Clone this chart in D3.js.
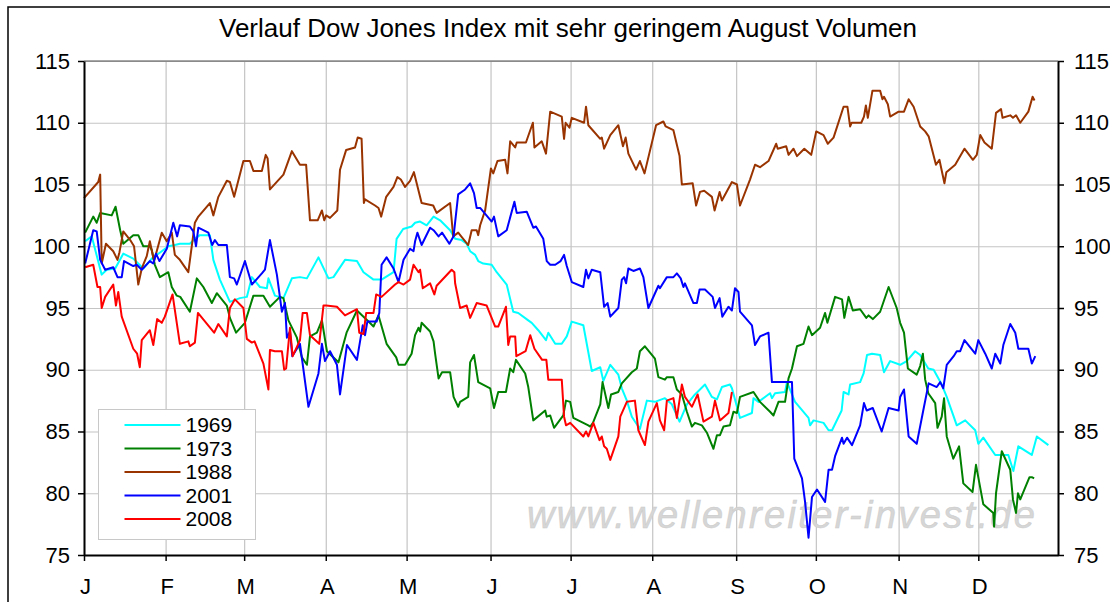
<!DOCTYPE html>
<html>
<head>
<meta charset="utf-8">
<script src="https://cdn.jsdelivr.net/npm/d3@7"></script>
<style>
  body{margin:0;background:#fff;}
  svg{display:block;font-family:"Liberation Sans",Arial,sans-serif;}
</style>
</head>
<body>
<svg id="chart" width="1110" height="602"></svg>
<script>
// chart values (x = trading day of the year, y = index level)
var title="Verlauf Dow Jones Index mit sehr geringem August Volumen";
var monthLabels=["J","F","M","A","M","J","J","A","S","O","N","D"];
var monthStarts=[0,21.2,41.6,62.8,83.8,105.6,126.4,147.6,169.4,190.1,211.6,232.3];
var daysInYear=253;
var yTicks=[75,80,85,90,95,100,105,110,115];
var years=["1969","1973","1988","2001","2008"];
var watermark="www.wellenreiter-invest.de";

var s1969=[[0.3,100.4],[2.0,100.8],[4.6,97.7],[5.9,98.1],[8.1,98.2],[10.2,99.4],[12.8,99.0],[15.4,98.2],[17.6,99.0],[20.2,99.6],[21.9,100.0],[23.6,100.1],[24.9,100.2],[27.5,100.2],[28.8,100.6],[30.1,100.9],[32.7,100.9],[33.6,98.9],[35.3,97.3],[37.9,95.5],[40.5,95.8],[42.3,95.9],[43.6,97.5],[45.7,96.7],[47.5,96.6],[47.9,97.4],[49.6,96.0],[51.8,95.8],[54.0,97.4],[56.1,97.5],[57.9,97.4],[60.9,99.1],[63.5,97.4],[64.8,97.5],[67.8,98.9],[70.9,98.8],[72.6,97.9],[75.2,97.3],[77.3,97.3],[80.4,97.9],[81.2,100.6],[82.9,101.4],[85.1,101.6],[86.0,101.9],[87.3,102.0],[89.0,101.7],[90.8,102.4],[92.5,102.1],[95.1,101.3],[96.4,100.6],[98.1,100.5],[99.4,100.2],[100.3,99.6],[101.6,99.3],[102.4,98.8],[103.7,98.6],[105.9,98.5],[107.2,97.9],[109.8,96.9],[111.5,94.7],[112.8,94.6],[115.4,94.0],[116.3,93.8],[118.0,93.2],[120.0,92.4],[120.6,93.0],[122.4,92.1],[124.1,92.1],[125.4,92.7],[126.7,93.9],[129.7,93.6],[131.9,89.9],[134.1,90.2],[134.9,89.1],[136.7,90.4],[138.8,89.6],[139.7,88.5],[141.0,87.5],[142.3,86.2],[144.4,85.2],[146.2,87.5],[148.3,87.4],[150.9,87.7],[152.7,87.2],[154.7,85.8],[156.6,87.2],[158.7,88.0],[161.3,88.8],[163.1,87.8],[164.4,87.6],[165.7,88.6],[167.8,88.8],[168.3,88.5],[170.4,86.1],[173.5,86.5],[173.9,87.7],[175.2,87.4],[178.2,88.1],[178.7,87.7],[179.5,88.1],[182.1,88.2],[182.6,89.0],[184.7,87.4],[188.2,86.1],[188.6,85.5],[189.5,85.9],[192.1,85.7],[193.4,85.1],[194.3,85.1],[196.8,86.7],[197.3,88.2],[198.6,88.0],[199.0,88.8],[201.6,89.0],[202.5,89.7],[203.4,91.2],[204.7,91.3],[206.8,91.2],[207.8,89.8],[209.4,90.7],[212.0,90.4],[213.7,90.7],[215.9,91.5],[217.2,91.2],[219.3,90.1],[220.7,90.0],[222.8,88.8],[224.1,87.8],[225.8,86.3],[226.7,85.5],[228.9,85.9],[231.5,85.1],[232.3,84.0],[233.6,84.5],[236.7,83.1],[240.1,83.1],[241.4,81.8],[242.7,83.8],[246.2,83.1],[247.5,84.6],[250.5,83.9]];

var s1973=[[0.3,101.1],[2.4,102.4],[3.3,101.9],[4.2,102.7],[7.2,102.5],[8.2,103.2],[9.4,101.3],[10.2,100.2],[12.8,100.9],[14.1,100.9],[15.4,100.0],[17.1,100.0],[17.6,99.7],[18.4,98.5],[19.7,97.5],[21.9,97.9],[22.8,96.7],[24.1,96.0],[25.0,95.9],[27.5,94.7],[29.3,97.4],[31.0,96.7],[33.2,95.4],[34.5,96.2],[37.1,95.2],[37.9,94.2],[39.5,93.0],[41.8,93.8],[44.0,96.0],[46.6,96.0],[48.3,95.1],[50.9,95.9],[51.8,95.8],[53.1,94.0],[55.3,92.6],[56.6,91.0],[57.9,90.4],[58.7,92.7],[60.5,93.0],[61.8,94.0],[63.1,91.5],[66.1,90.6],[68.2,93.0],[70.9,94.8],[73.9,93.9],[75.2,93.5],[76.5,94.4],[78.6,92.1],[80.4,91.3],[81.1,91.0],[81.7,90.4],[83.4,90.4],[85.1,91.3],[86.0,92.8],[86.9,93.4],[87.3,93.1],[87.7,93.8],[89.9,93.1],[90.8,92.3],[91.2,91.3],[92.1,89.3],[93.0,89.8],[95.1,89.8],[96.0,87.8],[97.2,87.0],[97.7,87.4],[99.8,87.8],[100.3,90.6],[101.3,91.2],[102.4,89.0],[105.5,88.5],[106.5,86.9],[107.6,88.2],[109.6,88.2],[110.7,90.1],[111.5,89.8],[112.2,90.8],[114.6,89.7],[115.4,88.6],[116.7,85.9],[119.8,86.7],[120.2,86.2],[121.1,86.3],[122.1,85.3],[124.5,86.3],[125.2,87.5],[126.3,87.4],[127.1,86.1],[131.0,85.5],[131.5,85.4],[132.2,85.7],[134.1,87.2],[134.7,89.0],[136.2,86.9],[136.9,88.0],[138.8,88.2],[139.7,88.9],[142.3,89.8],[143.6,90.1],[144.4,91.5],[145.7,91.9],[148.3,90.9],[149.2,89.4],[150.9,89.2],[151.4,89.4],[153.1,89.4],[154.0,88.4],[155.3,88.0],[156.6,86.6],[157.9,85.4],[158.7,85.7],[160.5,85.5],[161.8,84.9],[163.5,83.6],[164.4,84.7],[165.2,84.7],[166.1,85.4],[167.8,85.5],[168.7,86.6],[169.6,86.5],[170.4,87.8],[173.9,88.2],[175.6,87.4],[178.2,86.6],[179.1,86.3],[180.4,87.4],[182.1,87.4],[183.0,89.3],[183.9,90.1],[185.2,91.9],[186.9,92.1],[188.2,93.5],[189.1,92.8],[191.2,93.4],[192.5,94.6],[193.1,93.8],[195.1,95.9],[196.9,95.7],[197.5,94.2],[198.6,95.9],[199.7,94.8],[201.6,94.9],[203.2,94.2],[203.8,94.4],[204.9,94.1],[206.8,94.7],[209.0,96.7],[211.1,95.0],[212.0,93.8],[213.0,93.0],[214.0,90.1],[216.3,89.6],[217.2,90.3],[217.9,91.3],[218.5,89.2],[219.3,88.1],[221.1,87.3],[221.7,85.3],[222.8,86.2],[223.4,87.7],[224.1,84.6],[225.8,82.8],[227.3,83.8],[228.4,80.8],[230.8,80.1],[231.7,82.3],[233.6,79.1],[236.2,78.4],[236.4,77.3],[236.9,80.0],[238.4,83.4],[240.6,81.9],[241.3,79.5],[242.1,78.4],[242.6,80.0],[243.2,79.5],[245.6,81.3],[246.2,81.3],[246.8,81.2]];

var s1988=[[0,103.9],[3.7,105.2],[4.2,105.8],[4.6,98.6],[5.7,100.2],[7.6,99.6],[8.7,98.9],[9.2,99.5],[10.2,101.2],[12.0,100.5],[13.0,100.0],[14.1,96.9],[15.0,98.2],[16.3,99.2],[17.1,100.4],[18.2,98.8],[20.2,101.1],[21.5,100.4],[22.8,101.1],[23.6,99.3],[24.9,98.9],[27.1,97.9],[28.8,101.9],[29.7,102.4],[32.7,103.5],[33.6,102.5],[34.9,104.0],[37.1,105.3],[37.9,105.2],[39.0,104.0],[41.4,106.9],[43.1,106.9],[44.0,106.1],[46.2,106.1],[47.2,107.4],[47.7,107.1],[48.3,104.6],[51.8,105.8],[54.0,107.7],[56.1,106.6],[57.7,106.6],[58.7,102.1],[60.7,102.1],[61.8,102.9],[62.4,102.1],[62.9,102.5],[63.9,102.3],[65.8,102.9],[66.5,106.2],[68.1,107.8],[70.4,108.0],[71.1,108.8],[72.1,108.7],[72.7,103.5],[73.0,103.8],[75.6,103.3],[76.5,103.1],[77.2,102.4],[78.5,104.0],[80.4,104.8],[81.4,105.6],[82.3,105.4],[83.4,104.8],[84.7,105.3],[85.7,106.0],[87.7,103.5],[90.7,103.3],[91.6,102.7],[95.1,103.5],[95.9,100.8],[97.2,101.1],[99.8,100.1],[100.7,101.3],[102.0,101.3],[102.4,100.9],[102.9,101.7],[104.2,102.9],[105.7,106.3],[106.3,105.9],[107.4,106.9],[109.4,107.0],[110.0,105.9],[110.7,108.5],[112.0,108.0],[112.4,108.4],[114.8,108.4],[116.6,110.0],[117.0,108.0],[118.9,108.5],[120.0,107.5],[121.1,110.9],[124.1,110.5],[124.7,108.7],[125.1,110.0],[126.1,109.6],[126.7,110.4],[129.9,110.0],[130.4,111.3],[131.0,109.8],[134.1,108.7],[134.5,108.8],[135.1,107.9],[136.7,109.0],[138.8,109.8],[140.0,108.1],[140.7,108.8],[141.4,107.5],[143.4,106.2],[144.4,106.9],[145.6,105.9],[148.6,109.8],[150.5,110.1],[151.1,109.7],[153.1,109.4],[154.7,107.3],[155.3,105.0],[158.1,105.1],[159.0,103.3],[160.0,104.4],[161.1,104.5],[163.1,104.0],[163.8,102.9],[165.1,104.4],[165.7,103.7],[168.3,105.2],[169.6,105.0],[170.4,103.3],[173.0,105.4],[174.3,106.6],[175.6,106.4],[177.8,106.9],[179.8,108.3],[180.2,107.9],[182.4,108.1],[183.0,107.4],[184.3,107.9],[185.2,107.3],[187.1,107.9],[188.9,107.4],[190.2,109.3],[192.1,109.0],[193.2,108.3],[194.7,108.8],[197.3,111.3],[198.3,111.3],[199.0,109.7],[199.4,110.0],[201.9,110.0],[202.6,110.5],[203.1,111.4],[203.6,110.4],[204.8,112.6],[206.8,112.6],[207.4,111.9],[207.8,112.1],[208.8,111.5],[209.4,110.5],[211.6,110.9],[213.0,110.9],[214.2,111.9],[215.5,111.3],[217.2,109.7],[218.5,109.3],[219.4,108.9],[221.3,106.6],[222.2,107.0],[223.5,105.1],[224.0,106.0],[226.3,106.6],[228.7,107.9],[230.9,107.0],[231.9,107.4],[232.8,109.0],[233.9,108.4],[235.8,107.9],[236.9,110.8],[238.2,111.1],[238.6,110.4],[240.6,110.6],[241.3,110.4],[242.1,110.6],[243.2,110.0],[245.3,110.9],[246.4,112.1],[246.9,111.8]];

var s2001=[[0.3,98.6],[2.4,101.3],[3.3,101.2],[4.2,98.9],[5.5,98.1],[7.6,98.3],[8.7,97.5],[9.8,97.5],[10.4,98.8],[12.8,98.4],[13.7,98.5],[15.0,98.1],[17.1,98.8],[18.0,98.6],[18.7,99.4],[19.6,98.8],[21.5,99.8],[23.2,101.9],[24.2,100.8],[24.9,101.7],[27.5,101.6],[28.4,101.2],[29.1,100.0],[29.7,101.5],[32.3,101.1],[33.3,100.1],[34.0,100.5],[34.9,100.1],[37.1,100.1],[37.9,97.5],[39.0,97.4],[39.7,96.9],[41.8,98.8],[43.6,96.9],[46.2,97.8],[47.0,98.1],[48.3,100.5],[50.1,97.7],[51.4,94.7],[52.2,95.4],[52.7,92.6],[53.5,93.1],[54.1,91.1],[56.1,92.1],[58.3,87.0],[60.9,89.7],[61.8,92.1],[62.6,90.7],[63.9,91.5],[65.7,90.4],[66.5,88.0],[68.3,92.0],[70.9,90.8],[72.4,93.6],[73.0,92.8],[73.6,93.9],[76.0,93.9],[76.7,94.6],[77.3,98.5],[78.6,99.1],[80.4,98.2],[81.7,97.1],[83.0,98.9],[84.7,99.8],[85.6,99.6],[86.0,100.4],[86.6,101.1],[87.7,100.1],[89.9,101.5],[90.8,101.3],[92.1,100.8],[93.0,101.1],[94.9,100.2],[96.0,100.8],[97.2,104.2],[99.0,104.6],[100.3,105.1],[101.3,104.3],[102.0,103.1],[102.9,103.1],[105.9,102.0],[106.5,102.4],[107.6,100.8],[109.8,101.3],[111.8,103.6],[112.4,102.7],[115.0,102.8],[116.7,101.5],[117.4,101.6],[119.3,100.6],[120.2,98.8],[121.1,98.5],[122.4,98.5],[123.8,98.8],[124.7,99.3],[125.4,98.4],[126.7,97.1],[129.7,96.7],[130.4,98.1],[131.0,97.4],[131.9,98.1],[134.1,97.9],[135.1,95.1],[136.0,95.4],[136.7,94.3],[138.8,95.0],[139.7,97.3],[140.3,97.5],[140.8,97.0],[141.4,98.2],[142.7,98.0],[144.4,98.2],[145.3,97.5],[146.6,95.0],[149.2,96.8],[149.6,96.6],[151.4,97.5],[153.1,97.5],[154.0,97.8],[155.0,97.4],[155.7,96.7],[156.1,97.0],[158.3,95.4],[159.2,95.4],[159.9,96.5],[161.3,96.5],[163.3,95.9],[163.9,95.0],[165.1,95.8],[165.8,94.3],[167.4,95.1],[168.3,94.8],[169.1,96.6],[170.0,96.3],[170.4,94.7],[173.5,93.6],[174.3,92.0],[175.6,92.7],[177.8,93.0],[178.7,89.0],[183.9,89.0],[184.5,82.8],[186.5,81.2],[187.3,79.3],[188.2,76.4],[189.1,79.7],[190.4,80.3],[192.5,79.3],[193.4,81.9],[194.3,81.9],[195.1,83.0],[196.9,84.5],[197.3,84.0],[198.2,84.5],[199.5,83.9],[201.6,85.5],[202.6,87.3],[203.3,86.7],[204.9,86.9],[207.2,85.0],[209.0,86.9],[211.6,86.7],[212.0,87.8],[213.0,88.4],[214.2,84.6],[216.3,84.0],[218.0,86.7],[219.4,88.9],[221.5,88.6],[222.4,89.0],[223.2,88.5],[224.1,90.4],[225.9,91.1],[226.7,91.5],[227.6,91.5],[228.7,92.4],[231.5,91.3],[232.3,92.4],[234.1,91.3],[235.8,90.1],[236.7,91.3],[238.0,90.5],[238.8,92.0],[240.6,93.7],[241.9,93.0],[242.7,91.7],[245.3,91.7],[246.2,90.5],[247.1,91.1]];

var s2008=[[0.3,98.3],[2.4,98.5],[3.5,96.7],[4.2,96.7],[4.6,95.0],[5.5,95.9],[7.6,96.9],[8.3,95.2],[8.9,96.3],[9.8,94.3],[12.8,91.7],[13.8,91.3],[14.5,90.2],[15.0,92.4],[17.1,93.2],[18.0,92.0],[19.0,94.1],[20.2,93.8],[21.0,94.3],[23.0,96.1],[24.9,92.1],[27.1,92.3],[27.5,91.9],[28.8,92.2],[29.6,94.6],[33.8,93.0],[34.9,93.7],[37.1,92.7],[37.9,95.0],[39.2,95.7],[41.4,95.0],[42.3,92.5],[43.6,92.2],[44.3,92.3],[46.6,90.5],[47.9,88.4],[48.3,91.6],[49.6,91.5],[51.4,91.5],[52.0,90.0],[52.5,90.1],[53.5,93.4],[54.2,91.1],[56.1,92.4],[56.8,94.6],[57.9,94.6],[58.7,92.8],[61.1,92.1],[62.2,95.2],[62.9,95.2],[65.7,95.1],[67.8,94.4],[70.9,94.9],[71.5,93.0],[72.6,92.9],[73.3,94.6],[75.2,94.6],[75.9,96.1],[77.3,95.9],[80.8,96.9],[81.7,97.1],[83.0,96.9],[84.7,97.3],[85.6,98.5],[86.9,97.9],[87.3,98.1],[88.0,96.6],[89.9,97.0],[91.0,96.1],[91.6,96.8],[95.5,98.1],[96.2,97.9],[96.4,97.0],[97.7,95.0],[99.4,95.2],[100.3,94.2],[102.0,95.4],[104.6,95.2],[106.8,93.5],[107.6,93.5],[109.6,95.1],[110.2,92.0],[110.7,92.7],[112.0,92.7],[112.3,91.1],[114.7,91.5],[115.9,92.8],[117.0,91.7],[119.0,90.8],[120.1,90.8],[120.6,89.2],[124.1,89.2],[124.7,86.2],[125.2,85.5],[126.3,85.7],[129.7,84.6],[130.4,85.0],[131.0,84.6],[132.3,85.7],[133.9,84.3],[134.5,84.6],[135.1,83.8],[135.8,83.6],[136.7,82.7],[138.8,84.6],[139.3,86.2],[141.0,87.4],[143.1,87.5],[144.0,85.1],[145.7,83.9],[146.6,85.8],[148.8,87.3],[149.6,85.9],[150.7,85.1],[151.4,87.5],[153.1,87.7],[154.0,86.1],[155.3,88.8],[156.1,87.8],[157.9,87.0],[159.4,88.0],[160.9,85.8],[163.1,86.2],[163.9,87.5],[165.2,85.9],[167.4,86.5],[168.3,88.2]];

var series=[s1969,s1973,s1988,s2001,s2008];
var colors=["#00ffff","#008000","#993300","#0000ff","#ff0000"];

var svgWidth=1110,svgHeight=602;
var margin={top:61,right:52,bottom:47,left:84};
var width=svgWidth-margin.left-margin.right;
var height=svgHeight-margin.top-margin.bottom;

var svg=d3.select("#chart");

// outer frame
svg.append("rect")
  .attr("x",8).attr("y",7)
  .attr("width",1120).attr("height",610)
  .attr("fill","#fff")
  .attr("stroke","#000")
  .attr("stroke-width",1.5);

svg.append("text")
  .attr("x",568).attr("y",37)
  .attr("text-anchor","middle")
  .attr("font-size",25)
  .attr("textLength",698)
  .attr("lengthAdjust","spacingAndGlyphs")
  .attr("fill","#000")
  .text(title);

var g=svg.append("g")
  .attr("transform","translate("+margin.left+","+margin.top+")");

var x=d3.scaleLinear().domain([0,daysInYear]).range([0,width]);
var y=d3.scaleLinear().domain([75,115]).range([height,0]);

// grid
g.append("g")
  .attr("class","grid")
  .call(d3.axisLeft(y).tickValues(yTicks).tickSize(-width).tickFormat(""))
  .call(function(s){s.select(".domain").remove();});
g.append("g")
  .attr("class","grid")
  .attr("transform","translate(0,"+height+")")
  .call(d3.axisBottom(x).tickValues(monthStarts).tickSize(-height).tickFormat(""))
  .call(function(s){s.select(".domain").remove();});
g.selectAll(".grid line").attr("stroke","#c4c4c4").attr("stroke-width",1.2);

// top border of plot area
g.append("line")
  .attr("x1",0).attr("x2",width).attr("y1",0).attr("y2",0)
  .attr("stroke","#505050").attr("stroke-width",1.2);

// watermark
g.append("text")
  .attr("x",x(0)+443).attr("y",y(75)-27)
  .attr("font-size",38)
  .attr("font-style","italic")
  .attr("fill","#d6d6d6")
  .attr("stroke","#cacaca")
  .attr("stroke-width",0.5)
  .attr("textLength",508)
  .attr("lengthAdjust","spacing")
  .text(watermark);

// series
var line=d3.line()
  .x(function(d){return x(d[0]);})
  .y(function(d){return y(d[1]);});

series.forEach(function(s,i){
  g.append("path")
    .datum(s)
    .attr("fill","none")
    .attr("stroke",colors[i])
    .attr("stroke-width",2)
    .attr("stroke-linejoin","round")
    .attr("d",line);
});

// axes
var left=g.append("g")
  .call(d3.axisLeft(y).tickValues(yTicks).tickSize(6).tickSizeOuter(0).tickPadding(8));
var right=g.append("g")
  .attr("transform","translate("+width+",0)")
  .call(d3.axisRight(y).tickValues(yTicks).tickSize(6).tickSizeOuter(0).tickPadding(10));
var bottom=g.append("g")
  .attr("transform","translate(0,"+height+")")
  .call(d3.axisBottom(x).tickValues(monthStarts).tickSize(6).tickSizeOuter(0).tickPadding(17)
    .tickFormat(function(d,i){return monthLabels[i];}));

[left,right,bottom].forEach(function(a){
  a.attr("font-family",null).attr("font-size",22);
  a.selectAll("text").attr("fill","#000");
  a.selectAll("line").attr("stroke","#000").attr("stroke-width",1.5);
  a.select(".domain").attr("stroke","#000").attr("stroke-width",2);
});
bottom.selectAll("text").attr("dx",1);

// legend
var legend=svg.append("g").attr("transform","translate(98.5,409.5)");
legend.append("rect")
  .attr("width",157).attr("height",130)
  .attr("fill","#fff")
  .attr("stroke","#c8c8c8")
  .attr("stroke-width",1);
years.forEach(function(yr,i){
  var row=legend.append("g").attr("transform","translate(0,"+(15.5+i*23.5)+")");
  row.append("line")
    .attr("x1",26).attr("x2",82)
    .attr("stroke",colors[i]).attr("stroke-width",2);
  row.append("text")
    .attr("x",87).attr("dy","0.35em")
    .attr("font-size",21)
    .text(yr);
});
</script>
</body>
</html>
